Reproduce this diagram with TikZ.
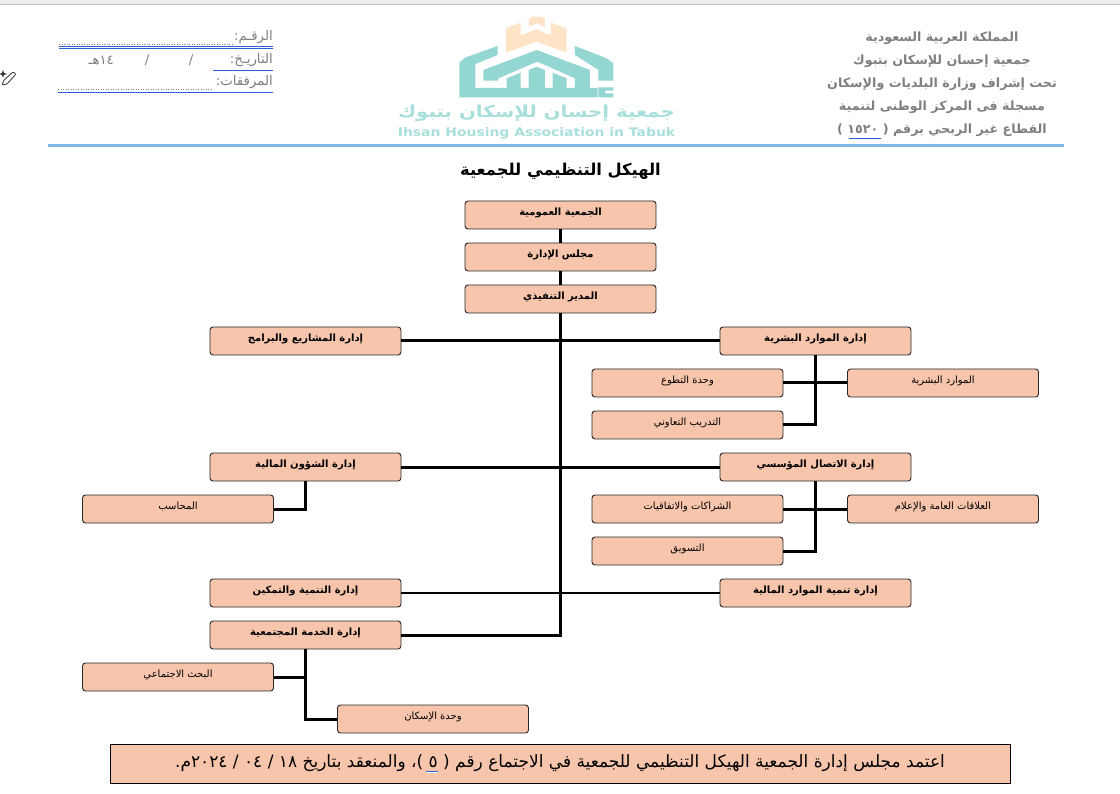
\documentclass[tikz,border=0pt]{standalone}
\usepackage{fontspec}
\setmainfont{DejaVu Sans}
\newfontfamily\arabicfont[Script=Arabic]{DejaVu Sans}
\TeXXeTstate=1
\newcommand{\artext}[1]{\arabicfont\beginR #1\endR}
\usetikzlibrary{positioning}
\definecolor{cpeach}{HTML}{F6C5AC}
\definecolor{cgrey}{HTML}{7F7F7F}
\definecolor{cline}{HTML}{7FB9E1}
\definecolor{cblue}{HTML}{2A62D6}
\definecolor{cteal}{HTML}{93D6D2}
\definecolor{ctealtext}{HTML}{A8DFDB}
\definecolor{ctower}{HTML}{FEE3C7}
\definecolor{cbar}{HTML}{F0EBEB}
\tikzset{
  box/.style={draw=black!85, fill=cpeach, rounded corners=3pt, minimum width=191pt, minimum height=28pt, inner sep=0pt, line width=0.9pt, text height=6.5pt, text depth=5.5pt, font=\fontsize{10}{12}\selectfont\bfseries},
  subbox/.style={box, font=\fontsize{10}{12}\selectfont},
  link/.style={draw=black, line width=3pt},
  bluerule/.style={draw=cblue, line width=0.7pt, double=white, double distance=1pt},
  dots/.style={draw=cgrey, line width=0.5pt, dotted},
  head/.style={font=\fontsize{12.7}{15}\selectfont\bfseries, text=cgrey, inner sep=0pt},
  refs/.style={font=\fontsize{13.3}{15}\selectfont, text=cgrey, inner sep=0pt},
}
\begin{document}
\begin{tikzpicture}[x=1pt, y=-1pt]
  \useasboundingbox (0,0) rectangle (1120,794);
  % window edge
  \fill[cbar] (0,0) rectangle (1120,4);
  \draw[black!25, line width=1pt] (0,4.5) -- (1120,4.5);
  % pencil mark
  \draw[black!80, line width=0.8pt, rounded corners=1pt] (2,85) -- (4,80) -- (13,72) -- (16,74) -- (7,84) -- cycle;
  \fill[black!80] (3,70) -- (4,73) -- (7,74) -- (4,75) -- (3,78) -- (2,75) -- (-1,74) -- (2,73) -- cycle;
  % logo
  \begin{scope}[shift={(450,10)}, x=0.3333pt, y=-0.3333pt]
    \fill[ctower] (168,55) -- (212,38) -- (212,76) -- (260,58) -- (303,76) -- (303,38) -- (350,55) -- (350,128) -- (260,95) -- (168,128) -- cycle;
    \fill[ctower] (237,50) -- (237,28) -- (248,20) -- (275,20) -- (285,28) -- (285,50) -- (262,40) -- cycle;
    \fill[cteal] (28,262) -- (28,158) -- (45,143) -- (143,108) -- (143,135) -- (76,162) -- (76,234) -- (443,234) -- (443,262) -- cycle;
    \fill[cteal] (375,108) -- (470,145) -- (490,160) -- (490,212) -- (445,212) -- (445,180) -- (375,135) -- cycle;
    \fill[cteal] (445,232) -- (490,232) -- (490,242) -- (465,242) -- (465,250) -- (490,250) -- (490,262) -- (445,262) -- cycle;
    \fill[cteal] (100,180) -- (260,120) -- (420,180) -- (420,234) -- (375,234) -- (375,205) -- (262,155) -- (145,205) -- (145,212) -- (100,212) -- cycle;
    \fill[cteal] (170,205) -- (212,188) -- (212,234) -- (170,234) -- cycle;
    \fill[cteal] (236,180) -- (260,170) -- (285,180) -- (285,234) -- (236,234) -- cycle;
    \fill[cteal] (308,188) -- (350,205) -- (350,234) -- (308,234) -- cycle;
  \end{scope}
  \node[font=\fontsize{16.5}{18}\selectfont\bfseries, text=ctealtext, inner sep=0pt, xscale=1.2, transform shape] (logoar) at (536.5,113.5) {\artext{جمعية إحسان للإسكان بتبوك}};
  \node[font=\fontsize{11.8}{13}\selectfont\bfseries, text=ctealtext, inner sep=0pt, xscale=1.18, transform shape] (logoen) at (536.5,133) {Ihsan Housing Association in Tabuk};
  % header, right side
  \node[head] (h1) at (942,38) {\artext{المملكة العربية السعودية}};
  \node[head] (h2) at (942,61) {\artext{جمعية إحسان للإسكان بتبوك}};
  \node[head] (h3) at (942,84) {\artext{تحت إشراف وزارة البلديات والإسكان}};
  \node[head] (h4) at (942,107) {\artext{مسجلة فى المركز الوطنى لتنمية}};
  \node[head] (h5) at (942,130) {\artext{القطاع غير الربحي برقم ( ١٥٢٠ )}};
  \draw[draw=cblue, line width=0.8pt] (849,138) -- (881,138);
  % header, left side
  \node[refs, anchor=east] (r1) at (273,37) {\artext{الرقـم:}};
  \node[refs, anchor=east] (r2) at (273,60) {\artext{التاريـخ:}};
  \node[refs, anchor=east] (r3) at (273,82) {\artext{المرفقات:}};
  \node[refs, anchor=east] (r4) at (114,60) {\artext{١٤هـ}};
  \node[refs] (r5) at (147,60) {/};
  \node[refs] (r6) at (191,60) {/};
  \draw[dots] (59,44) -- (233,44);
  \draw[dots] (58,89) -- (212,89);
  \draw[bluerule] (59,47.5) -- (273,47.5);
  \draw[bluerule] (213,70) -- (273,70);
  \draw[bluerule] (58,92) -- (273,92);
  \draw[cline, line width=3pt] (48,145.5) -- (1064,145.5);
  % title
  \node[font=\fontsize{16.3}{19}\selectfont\bfseries, inner sep=0pt] (title) at (560.5,171) {\artext{الهيكل التنظيمي للجمعية}};
  % top of the chart
  \node[box] (assembly) at (560.5,215) {\artext{الجمعية العمومية}};
  \node[box] (board) at (560.5,257) {\artext{مجلس الإدارة}};
  \node[box] (exec) at (560.5,299) {\artext{المدير التنفيذي}};
  % left column
  \node[box] (proj) at (305.5,341) {\artext{إدارة المشاريع والبرامج}};
  \node[box] (fin) at (305.5,467) {\artext{إدارة الشؤون المالية}};
  \node[subbox] (acc) at (178,509) {\artext{المحاسب}};
  \node[box] (dev) at (305.5,593) {\artext{إدارة التنمية والتمكين}};
  \node[box] (serv) at (305.5,635) {\artext{إدارة الخدمة المجتمعية}};
  \node[subbox] (research) at (178,677) {\artext{البحث الاجتماعي}};
  \node[subbox] (housing) at (433,719) {\artext{وحدة الإسكان}};
  % right column
  \node[box] (hr) at (815.5,341) {\artext{إدارة الموارد البشرية}};
  \node[subbox] (vol) at (687.5,383) {\artext{وحدة التطوع}};
  \node[subbox] (staff) at (943,383) {\artext{الموارد البشرية}};
  \node[subbox] (train) at (687.5,425) {\artext{التدريب التعاوني}};
  \node[box] (comm) at (815.5,467) {\artext{إدارة الاتصال المؤسسي}};
  \node[subbox] (part) at (687.5,509) {\artext{الشراكات والاتفاقيات}};
  \node[subbox] (pr) at (943,509) {\artext{العلاقات العامة والإعلام}};
  \node[subbox] (mkt) at (687.5,551) {\artext{التسويق}};
  \node[box] (fund) at (815.5,593) {\artext{إدارة تنمية الموارد المالية}};
  % connectors
  \draw[link] (assembly) -- (board);
  \draw[link] (board) -- (exec);
  \draw[link] (exec) |- (serv);
  \draw[link] (proj) -- (hr);
  \draw[link] (fin) -- (comm);
  \draw[link, line width=2.8pt] (dev) -- (fund);
  \draw[link] (fin) |- (acc);
  \draw[link] (serv) |- (research);
  \draw[link] (serv) |- (housing);
  \draw[link] (hr) |- (train);
  \draw[link] (vol) -- (staff);
  \draw[link] (comm) |- (mkt);
  \draw[link] (part) -- (pr);
  % approval note
  \node[draw=black, fill=cpeach, line width=1pt, minimum width=900pt, minimum height=39pt, inner sep=0pt, font=\fontsize{17}{20}\selectfont] (approval) at (560,763.5) {\artext{اعتمد مجلس إدارة الجمعية الهيكل التنظيمي للجمعية في الاجتماع رقم ( ٥ )، والمنعقد بتاريخ ١٨ / ٠٤ / ٢٠٢٤م.}};
  \draw[bluerule] (426,772) -- (438,772);
\end{tikzpicture}
\end{document}
